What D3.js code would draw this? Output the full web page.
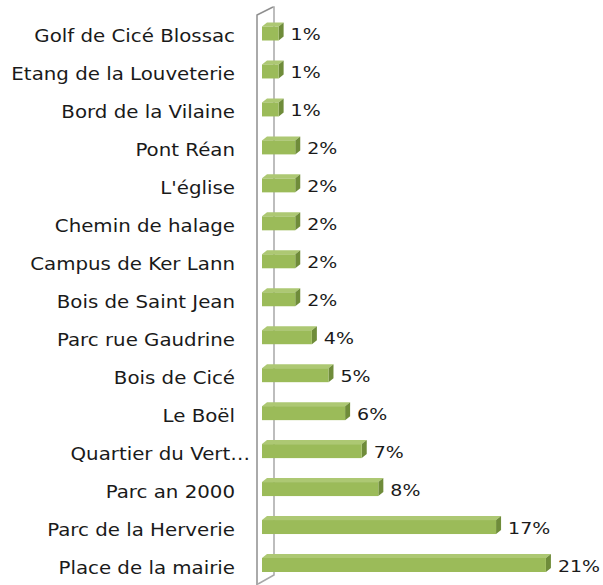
<!DOCTYPE html>
<html>
<head>
<meta charset="utf-8">
<script src="https://cdn.jsdelivr.net/npm/d3@7"></script>
<style>
  body { margin: 0; background: #fff; }
  svg { display: block; }
  .cat { font-family: "DejaVu Sans", sans-serif; font-size: 18px; fill: #1a1a1a; }
  .val { font-family: "DejaVu Sans", sans-serif; font-size: 16.5px; fill: #1a1a1a; }
</style>
</head>
<body>
<svg width="603" height="585"></svg>
<script>
    // categories, top to bottom as in the chart
    const places = [
        'Golf de Cicé Blossac',
        'Etang de la Louveterie',
        'Bord de la Vilaine',
        'Pont Réan',
        "L'église",
        'Chemin de halage',
        'Campus de Ker Lann',
        'Bois de Saint Jean',
        'Parc rue Gaudrine',
        'Bois de Cicé',
        'Le Boël',
        'Quartier du Vert…',
        'Parc an 2000',
        'Parc de la Herverie',
        'Place de la mairie'
    ];
    // share of answers (%)
    const shares = [1.2, 1.2, 1.2, 2.4, 2.4, 2.4, 2.4, 2.4, 3.6, 4.8, 6.0, 7.2, 8.4, 16.9, 20.5];

    const data = places.map((p, i) => ({ place: p, share: shares[i] }));

    const svg = d3.select('svg');
    const depthX = 5, depthY = 4, barH = 14;
    const stretch = 1.1; // the original text is drawn wide

    const x = d3.scaleLinear().domain([0, 20]).range([262, 539]);
    const y = d3.scalePoint().domain(places).range([33.5, 565]);

    // side wall of the 3d chart
    const x0 = x(0);
    const wall = svg.append('g').attr('fill', 'none');
    wall.append('path')
        .attr('d', `M${x0 - 5},600 L${x0 - 5},15 L${x0 + 11},7`)
        .attr('stroke', '#8f8f8f').attr('stroke-width', 1.5);
    wall.append('path')
        .attr('d', `M${x0 + 11},7 L${x0 + 12},7 L${x0 + 12},575 L${x0 - 4},584`)
        .attr('stroke', '#a8a8a8').attr('stroke-width', 1.5);

    const bars = svg.append('g').selectAll('g')
        .data(data)
        .enter().append('g');

    // top face
    bars.append('path')
        .attr('fill', '#adc873')
        .attr('d', d => {
            const t = y(d.place) - barH / 2, w = x(d.share) - x0;
            return `M${x0},${t} L${x0 + depthX},${t - depthY} L${x0 + w + depthX},${t - depthY} L${x0 + w},${t} Z`;
        });

    // side face
    bars.append('path')
        .attr('fill', '#6f8c3a')
        .attr('d', d => {
            const t = y(d.place) - barH / 2, r = x(d.share);
            return `M${r},${t} L${r + depthX},${t - depthY} L${r + depthX},${t + barH - depthY} L${r},${t + barH} Z`;
        });

    // front face
    bars.append('rect')
        .attr('fill', '#9bbb59')
        .attr('x', x0)
        .attr('y', d => y(d.place) - barH / 2)
        .attr('width', d => x(d.share) - x0)
        .attr('height', barH);

    // value labels
    bars.append('text')
        .attr('class', 'val')
        .attr('transform', d => `translate(${x(d.share) + depthX + 7},${y(d.place) + 6.5}) scale(${stretch + 0.05},1)`)
        .text(d => Math.round(d.share) + '%');

    // category labels
    svg.append('g').selectAll('text')
        .data(data)
        .enter().append('text')
        .attr('class', 'cat')
        .attr('text-anchor', 'end')
        .attr('transform', d => `translate(${d.place.endsWith('…') ? 250 : 235},${y(d.place) + 8.5}) scale(${stretch},1)`)
        .text(d => d.place);
</script>
</body>
</html>
